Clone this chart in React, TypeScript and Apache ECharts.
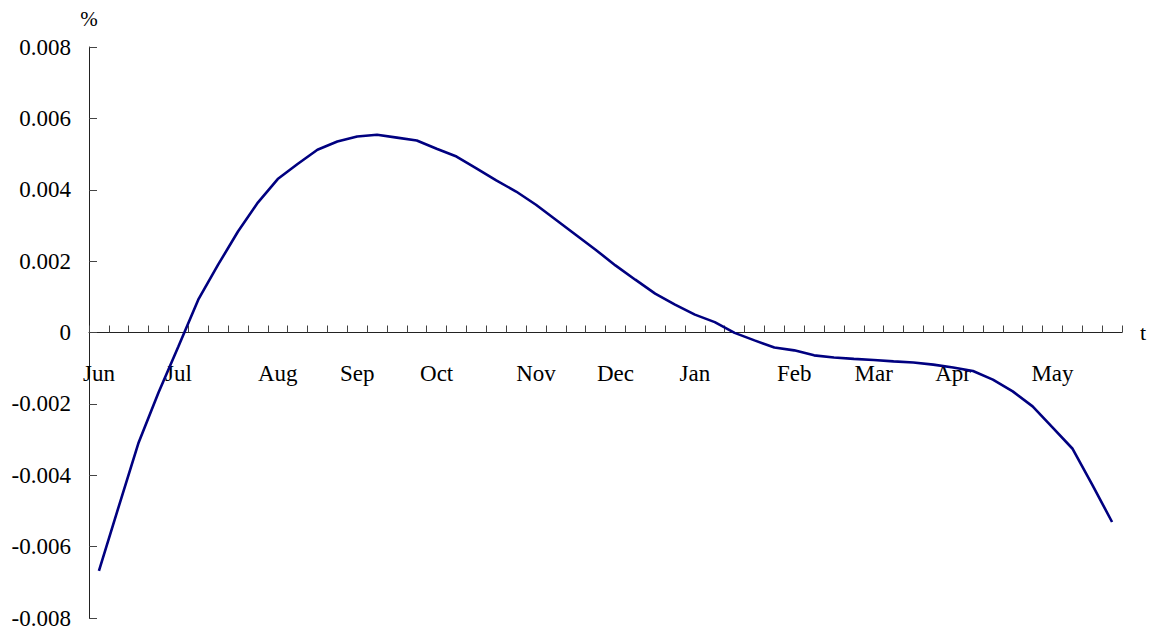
import React, { useEffect, useRef } from "react";
import * as echarts from "echarts";

const weeks: string[] = [
  "Jun", "", "", "", "Jul", "", "", "", "", "Aug", "", "", "", "Sep", "", "", "", "Oct",
  "", "", "", "", "Nov", "", "", "", "Dec", "", "", "", "Jan", "", "", "", "", "Feb",
  "", "", "", "Mar", "", "", "", "Apr", "", "", "", "", "May", "", "", "",
];

const values: number[] = [
  -0.00668, -0.00487, -0.00308, -0.00168, -0.00039, 0.00092, 0.0019, 0.00283, 0.00364,
  0.0043, 0.00472, 0.00512, 0.00535, 0.00549, 0.00554, 0.00546, 0.00538, 0.00515,
  0.00493, 0.0046, 0.00426, 0.00395, 0.00358, 0.00316, 0.00274, 0.00232, 0.00188,
  0.00148, 0.00109, 0.00078, 0.0005, 0.00029, -0.00001, -0.00022, -0.00042, -0.0005,
  -0.00064, -0.0007, -0.00074, -0.00077, -0.00081, -0.00084, -0.0009, -0.00098,
  -0.00108, -0.00132, -0.00165, -0.00207, -0.00266, -0.00325, -0.00426, -0.00531,
];

const yMin = -0.008;
const yMax = 0.008;
const yStep = 0.002;

const FONT = "'Liberation Serif', 'Times New Roman', serif";

export default function App() {
  const ref = useRef<HTMLDivElement>(null);
  useEffect(() => {
    if (!ref.current) return;
    const chart = echarts.init(ref.current, undefined, { renderer: "svg" });
    chart.setOption({
      animation: false,
      backgroundColor: "#ffffff",
      textStyle: { fontFamily: FONT, color: "#000" },
      grid: {
        left: 89,
        right: 34,
        top: 47,
        bottom: 19,
        containLabel: false,
        outerBoundsMode: "none",
      },
      xAxis: {
        type: "category",
        data: weeks,
        boundaryGap: true,
        name: "t",
        nameLocation: "end",
        nameGap: 18,
        nameTextStyle: { fontFamily: FONT, fontSize: 22, color: "#000" },
        axisLine: { onZero: true, lineStyle: { color: "#222", width: 1 } },
        axisTick: { show: true, inside: true, length: 7, interval: 0, lineStyle: { color: "#444" } },
        axisLabel: { interval: 0, margin: -256, fontFamily: FONT, fontSize: 23, color: "#000" },
        splitLine: { show: false },
      },
      yAxis: {
        type: "value",
        min: yMin,
        max: yMax,
        interval: yStep,
        name: "%",
        nameLocation: "end",
        nameGap: 18,
        nameTextStyle: { fontFamily: FONT, fontSize: 21, color: "#000", align: "center" },
        axisLine: { show: true, lineStyle: { color: "#222", width: 1 } },
        axisTick: { show: true, inside: true, length: 8, lineStyle: { color: "#444" } },
        axisLabel: {
          margin: 18,
          fontFamily: FONT,
          fontSize: 23,
          color: "#000",
          formatter: (v: number) => (Math.abs(v) < 1e-9 ? "0" : v.toFixed(3)),
        },
        splitLine: { show: false },
      },
      series: [
        {
          type: "line",
          data: values,
          symbol: "none",
          smooth: false,
          lineStyle: { color: "#000080", width: 2.6 },
        },
      ],
    });
    return () => chart.dispose();
  }, []);
  return (
    <div
      ref={ref}
      style={{ position: "fixed", left: 0, top: 0, width: 1156, height: 637, background: "#fff" }}
    />
  );
}
